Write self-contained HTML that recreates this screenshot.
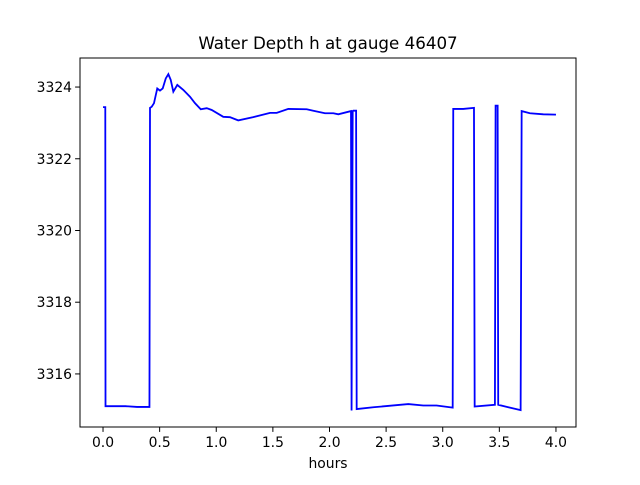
<!DOCTYPE html>
<html><head><meta charset="utf-8"><style>
html,body{margin:0;padding:0;background:#fff;}
svg text{font-family:"DejaVu Sans","Liberation Sans",sans-serif;fill:#000;}
</style></head><body>
<svg id="chart" width="640" height="480" xmlns="http://www.w3.org/2000/svg">
<rect width="640" height="480" fill="#fff"/>
<text x="328" y="49" font-size="16.7" text-anchor="middle">Water Depth h at gauge 46407</text>
<g id="plot"></g>
<rect x="80" y="58" width="496" height="369" fill="none" stroke="#000" stroke-width="1"/>
<g id="xticks"></g><g id="yticks"></g>
<text x="328" y="468" font-size="13.9" text-anchor="middle">hours</text>
</svg>
<script>
const hours = [0.0,0.02,0.022,0.2,0.3,0.41,0.415,0.430,0.450,0.479,0.503,0.527,0.554,0.577,0.598,0.621,0.656,0.709,0.768,0.812,0.863,0.916,0.960,1.062,1.121,1.194,1.327,1.475,1.534,1.636,1.799,1.857,1.960,2.034,2.078,2.190,2.195,2.205,2.210,2.235,2.240,2.387,2.696,2.828,2.946,3.088,3.093,3.181,3.276,3.282,3.461,3.467,3.485,3.490,3.579,3.688,3.697,3.770,3.888,4.0];
const depth = [3323.44,3323.44,3315.10,3315.10,3315.08,3315.08,3323.42,3323.45,3323.55,3323.96,3323.90,3323.96,3324.24,3324.36,3324.20,3323.87,3324.06,3323.92,3323.73,3323.55,3323.38,3323.41,3323.36,3323.17,3323.16,3323.07,3323.16,3323.28,3323.28,3323.39,3323.38,3323.34,3323.27,3323.27,3323.24,3323.33,3314.98,3323.33,3323.34,3323.34,3315.02,3315.07,3315.16,3315.12,3315.12,3315.06,3323.39,3323.39,3323.42,3315.09,3315.14,3323.48,3323.48,3315.14,3315.07,3314.99,3323.33,3323.27,3323.24,3323.23];
const xTickVals = [0,0.5,1,1.5,2,2.5,3,3.5,4];
const xTickLabels = ["0.0","0.5","1.0","1.5","2.0","2.5","3.0","3.5","4.0"];
const yTickVals = [3316,3318,3320,3322,3324];
const yTickLabels = ["3316","3318","3320","3322","3324"];

const NS="http://www.w3.org/2000/svg";
const X0=80,X1=576,Y0=58,Y1=427;
const xmin=-0.2033,xmax=4.177,ymin=3314.52,ymax=3324.81;
function sx(v){return X0+(v-xmin)/(xmax-xmin)*(X1-X0);}
function sy(v){return Y1-(v-ymin)/(ymax-ymin)*(Y1-Y0);}
const plot=document.getElementById('plot');
const line=document.createElementNS(NS,'polyline');
line.setAttribute('points',hours.map((h,i)=>sx(h).toFixed(2)+','+sy(depth[i]).toFixed(2)).join(' '));
line.setAttribute('fill','none');line.setAttribute('stroke','#0000ff');line.setAttribute('stroke-width','1.8');


plot.appendChild(line);
const xg=document.getElementById('xticks');
xTickVals.forEach((v,i)=>{
  const l=document.createElementNS(NS,'line');
  l.setAttribute('x1',sx(v));l.setAttribute('x2',sx(v));l.setAttribute('y1',Y1);l.setAttribute('y2',Y1+4.9);l.setAttribute('stroke','#000');
  
  
  xg.appendChild(l);
  const t=document.createElementNS(NS,'text');
  t.setAttribute('x',sx(v));t.setAttribute('y',Y1+20);t.setAttribute('font-size','13.9');t.setAttribute('text-anchor','middle');
  t.textContent=xTickLabels[i];
  
  
  xg.appendChild(t);
});
const yg=document.getElementById('yticks');
yTickVals.forEach((v,i)=>{
  const l=document.createElementNS(NS,'line');
  l.setAttribute('x1',X0-4.9);l.setAttribute('x2',X0);l.setAttribute('y1',sy(v));l.setAttribute('y2',sy(v));l.setAttribute('stroke','#000');
  
  
  yg.appendChild(l);
  const t=document.createElementNS(NS,'text');
  t.setAttribute('x',X0-8);t.setAttribute('y',sy(v)+5);t.setAttribute('font-size','13.9');t.setAttribute('text-anchor','end');
  t.textContent=yTickLabels[i];
  
  
  yg.appendChild(t);
});
</script>
</body></html>
